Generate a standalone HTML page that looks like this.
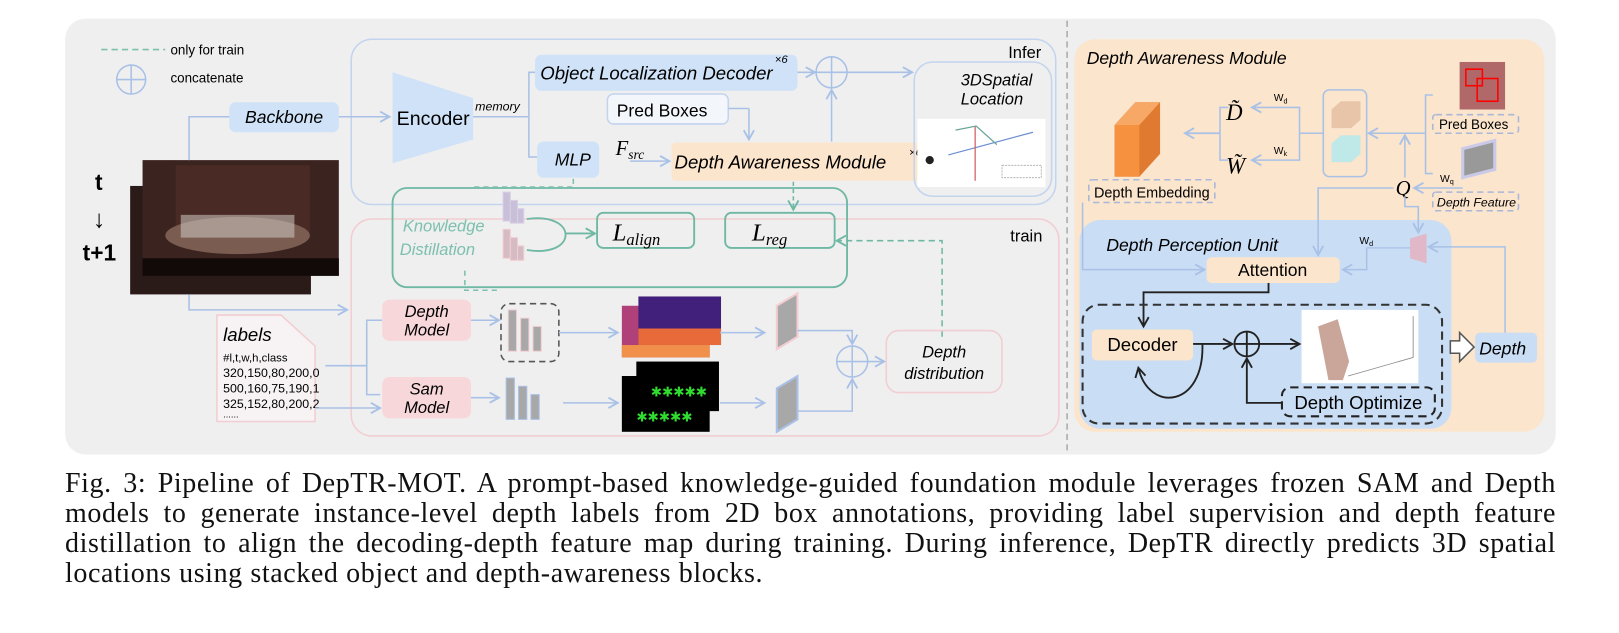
<!DOCTYPE html>
<html><head><meta charset="utf-8"><style>
body{margin:0;background:#fff;width:1619px;height:633px;overflow:hidden;position:relative}
svg{position:absolute;left:0;top:0}
.cap{position:absolute;left:65px;top:469px;width:1491px;font-family:"Liberation Serif",serif;font-size:28px;letter-spacing:0.6px;line-height:30px;text-align:justify;color:#111}
text{font-family:"Liberation Sans",sans-serif}
.it{font-style:italic}
</style></head><body>
<svg width="1619" height="465" viewBox="0 0 1619 465">
<defs>
<marker id="a" markerWidth="12" markerHeight="12" refX="10" refY="6" orient="auto" markerUnits="userSpaceOnUse"><path d="M1,1 L10,6 L1,11" fill="none" stroke="#a9c1e6" stroke-width="1.8"/></marker>
<marker id="g" markerWidth="12" markerHeight="12" refX="10" refY="6" orient="auto" markerUnits="userSpaceOnUse"><path d="M1,1 L10,6 L1,11" fill="none" stroke="#6fb8a3" stroke-width="1.8"/></marker>
<marker id="k" markerWidth="12" markerHeight="12" refX="10" refY="6" orient="auto" markerUnits="userSpaceOnUse"><path d="M1,1 L10,6 L1,11" fill="none" stroke="#222" stroke-width="1.8"/></marker>
</defs>
<g transform="scale(1.033)">
<rect x="63" y="18" width="1443" height="422" rx="20" fill="#efefef"/>
<line x1="1033" y1="20" x2="1033" y2="440" stroke="#aaa" stroke-width="1.5" stroke-dasharray="6,4"/>
<line x1="98" y1="48" x2="160" y2="48" stroke="#7cc0ad" stroke-width="1.5" stroke-dasharray="6,4"/>
<text x="165" y="53" font-size="13">only for train</text>
<circle cx="127" cy="77" r="14" fill="none" stroke="#a9c1e6" stroke-width="1.5"/>
<line x1="113" y1="77" x2="141" y2="77" stroke="#a9c1e6" stroke-width="1.5"/><line x1="127" y1="63" x2="127" y2="91" stroke="#a9c1e6" stroke-width="1.5"/>
<text x="165" y="80" font-size="13">concatenate</text>
<rect x="340" y="38" width="682" height="160" rx="20" fill="none" stroke="#c3d4ef" stroke-width="1.5"/>
<text x="976" y="56" font-size="16">Infer</text>
<rect x="340" y="212" width="685" height="210" rx="20" fill="none" stroke="#f2cdd2" stroke-width="1.5"/>
<text x="978" y="234" font-size="16">train</text>
<text x="92" y="184" font-size="22" font-weight="bold">t</text>
<text x="90" y="220" font-size="24">↓</text>
<text x="80" y="252" font-size="22" font-weight="bold">t+1</text>
<rect x="126" y="180" width="175" height="105" fill="#2a1a18"/>
<rect x="138" y="155" width="190" height="112" fill="#3b2320"/>
<rect x="170" y="160" width="130" height="70" fill="#4a2a24"/>
<ellipse cx="230" cy="228" rx="70" ry="18" fill="#7a5d50"/>
<rect x="175" y="208" width="110" height="22" fill="#cfc8c4" opacity=".55"/>
<rect x="138" y="250" width="190" height="17" fill="#120909"/>
<polyline points="183,155 183,113 222,113" fill="none" stroke="#a9c1e6" stroke-width="1.5"/>
<rect x="222" y="99" width="106" height="29" rx="6" fill="#cfe2f7"/>
<text x="275" y="119" font-size="17" class="it" text-anchor="middle">Backbone</text>
<line x1="328" y1="113" x2="377" y2="113" stroke="#a9c1e6" stroke-width="1.5" marker-end="url(#a)"/>
<polygon points="380,70 458,95 458,135 380,158" fill="#cfe2f7"/>
<text x="384" y="121" font-size="19">Encoder</text>
<text x="460" y="107" font-size="12" class="it">memory</text>
<polyline points="458,113 512,113" fill="none" stroke="#a9c1e6" stroke-width="1.5"/>
<polyline points="518,70 512,70 512,152 520,152" fill="none" stroke="#a9c1e6" stroke-width="1.5"/>
<rect x="518" y="53" width="254" height="35" rx="6" fill="#cfe2f7"/>
<text x="523" y="77" font-size="18" class="it">Object Localization Decoder</text>
<text x="750" y="61" font-size="11" class="it">×6</text>
<line x1="772" y1="70" x2="789" y2="70" stroke="#a9c1e6" stroke-width="1.5" marker-end="url(#a)"/>
<circle cx="805" cy="70" r="15" fill="none" stroke="#a9c1e6" stroke-width="1.5"/>
<line x1="790" y1="70" x2="820" y2="70" stroke="#a9c1e6" stroke-width="1.5"/><line x1="805" y1="55" x2="805" y2="85" stroke="#a9c1e6" stroke-width="1.5"/>
<line x1="820" y1="70" x2="883" y2="70" stroke="#a9c1e6" stroke-width="1.5" marker-end="url(#a)"/>
<line x1="805" y1="137" x2="805" y2="87" stroke="#a9c1e6" stroke-width="1.5" marker-end="url(#a)"/>
<rect x="588" y="91" width="117" height="29" rx="6" fill="#f3f6fb" stroke="#c3d4ef" stroke-width="1.5"/>
<text x="597" y="113" font-size="17">Pred Boxes</text>
<line x1="725" y1="105" x2="725" y2="135" stroke="#a9c1e6" stroke-width="1.5" marker-end="url(#a)"/>
<line x1="705" y1="105" x2="725" y2="105" stroke="#a9c1e6" stroke-width="1.5"/>
<rect x="520" y="137" width="60" height="35" rx="6" fill="#cfe2f7"/>
<text x="537" y="160" font-size="17" class="it">MLP</text>
<text x="596" y="150" font-size="20" style="font-family:'Liberation Serif',serif" font-style="italic">F<tspan font-size="13" dy="4">src</tspan></text>
<line x1="610" y1="156" x2="648" y2="156" stroke="#a9c1e6" stroke-width="1.5" marker-end="url(#a)"/>
<rect x="650" y="138" width="255" height="37" rx="4" fill="#fbe5cc"/>
<text x="653" y="163" font-size="18" class="it">Depth Awareness Module</text>
<text x="880" y="151" font-size="11" class="it">×6</text>
<rect x="885" y="60" width="133" height="130" rx="18" fill="none" stroke="#c3d4ef" stroke-width="1.5"/>
<text x="930" y="83" font-size="16" class="it">3DSpatial</text>
<text x="930" y="101" font-size="16" class="it">Location</text>
<rect x="888" y="115" width="124" height="66" fill="#fff"/>
<line x1="918" y1="150" x2="1000" y2="128" stroke="#6d8fd0" stroke-width="1.2"/>
<line x1="944" y1="122" x2="944" y2="175" stroke="#d06060" stroke-width="1.2"/>
<polyline points="925,126 945,122 965,140" fill="none" stroke="#6aa59a" stroke-width="1.2"/>
<rect x="970" y="160" width="38" height="12" fill="none" stroke="#aaa" stroke-width=".8" stroke-dasharray="2,1"/>
<circle cx="900" cy="155" r="4" fill="#222"/>
<rect x="380" y="182" width="440" height="96" rx="14" fill="none" stroke="#6fb8a3" stroke-width="1.8"/>
<text x="390" y="224" font-size="16" class="it" fill="#7cc0ad">Knowledge</text>
<text x="387" y="247" font-size="16" class="it" fill="#7cc0ad">Distillation</text>
<g fill="#c8c0d8" stroke="#d9cfe6"><rect x="487" y="186" width="7" height="28"/><rect x="494" y="194" width="7" height="22"/><rect x="501" y="202" width="6" height="14"/></g>
<g fill="#d5bcc4" stroke="#f2cdd2"><rect x="487" y="222" width="7" height="28"/><rect x="494" y="230" width="7" height="22"/><rect x="501" y="238" width="6" height="14"/></g>
<path d="M510,212 C560,205 560,250 510,242" fill="none" stroke="#6fb8a3" stroke-width="1.8"/>
<line x1="548" y1="226" x2="576" y2="226" stroke="#6fb8a3" stroke-width="1.8" marker-end="url(#g)"/>
<rect x="578" y="206" width="94" height="34" rx="6" fill="none" stroke="#6fb8a3" stroke-width="1.8"/>
<text x="593" y="233" font-size="24" style="font-family:'Liberation Serif',serif" font-style="italic">L<tspan font-size="16" dy="4">align</tspan></text>
<rect x="702" y="206" width="106" height="34" rx="6" fill="none" stroke="#6fb8a3" stroke-width="1.8"/>
<text x="728" y="233" font-size="24" style="font-family:'Liberation Serif',serif" font-style="italic">L<tspan font-size="16" dy="4">reg</tspan></text>
<line x1="768" y1="176" x2="768" y2="203" stroke="#6fb8a3" stroke-width="1.5" stroke-dasharray="4,3" marker-end="url(#g)"/>
<polyline points="912,326 912,233 810,233" fill="none" stroke="#6fb8a3" stroke-width="1.5" stroke-dasharray="6,4" marker-end="url(#g)"/>
<polyline points="555,173 555,181 455,181" fill="none" stroke="#7cc0ad" stroke-width="1.5" stroke-dasharray="5,4"/>
<polyline points="450,262 450,281 485,281" fill="none" stroke="#7cc0ad" stroke-width="1.5" stroke-dasharray="5,4"/>
<polyline points="183,285 183,300 336,300" fill="none" stroke="#a9c1e6" stroke-width="1.5" marker-end="url(#a)"/>
<path d="M210,305 L272,305 L305,335 L305,408 L210,408 Z" fill="#f7f3f4" stroke="#f2cdd2" stroke-width="1.5"/>
<text x="216" y="330" font-size="18" class="it">labels</text>
<text x="216" y="350" font-size="11">#l,t,w,h,class</text>
<text x="216" y="365" font-size="12">320,150,80,200,0</text>
<text x="216" y="380" font-size="12">500,160,75,190,1</text>
<text x="216" y="395" font-size="12">325,152,80,200,2</text>
<text x="216" y="404" font-size="9">......</text>
<polyline points="370,310 355,310 355,382 368,382" fill="none" stroke="#a9c1e6" stroke-width="1.5"/>
<line x1="305" y1="395" x2="368" y2="395" stroke="#a9c1e6" stroke-width="1.5" marker-end="url(#a)"/>
<line x1="315" y1="354" x2="355" y2="354" stroke="#a9c1e6" stroke-width="1.5"/>
<rect x="370" y="290" width="86" height="40" rx="7" fill="#f8d7da"/>
<text x="413" y="307" font-size="16" class="it" text-anchor="middle">Depth</text>
<text x="413" y="325" font-size="16" class="it" text-anchor="middle">Model</text>
<rect x="370" y="365" width="86" height="40" rx="7" fill="#f8d7da"/>
<text x="413" y="382" font-size="16" class="it" text-anchor="middle">Sam</text>
<text x="413" y="400" font-size="16" class="it" text-anchor="middle">Model</text>
<line x1="456" y1="310" x2="483" y2="310" stroke="#a9c1e6" stroke-width="1.5" marker-end="url(#a)"/>
<rect x="485" y="294" width="56" height="56" rx="8" fill="none" stroke="#555" stroke-width="1.5" stroke-dasharray="6,4"/>
<g fill="#a8a8a8" stroke="#f2cdd2"><rect x="492" y="300" width="8" height="40"/><rect x="504" y="308" width="8" height="32"/><rect x="516" y="316" width="8" height="24"/></g>
<line x1="541" y1="322" x2="598" y2="322" stroke="#a9c1e6" stroke-width="1.5" marker-end="url(#a)"/>
<line x1="456" y1="385" x2="483" y2="385" stroke="#a9c1e6" stroke-width="1.5" marker-end="url(#a)"/>
<g fill="#a8a8a8" stroke="#a9c1e6"><rect x="490" y="366" width="8" height="40"/><rect x="502" y="374" width="8" height="32"/><rect x="514" y="382" width="8" height="24"/></g>
<line x1="545" y1="390" x2="598" y2="390" stroke="#a9c1e6" stroke-width="1.5" marker-end="url(#a)"/>
<rect x="602" y="296" width="85" height="50" fill="#b0407a"/>
<rect x="618" y="287" width="80" height="47" fill="#40207a"/>
<rect x="618" y="318" width="80" height="16" fill="#e86a3a"/>
<rect x="602" y="334" width="85" height="12" fill="#f0904a"/>
<rect x="602" y="364" width="85" height="54" fill="#000"/>
<rect x="616" y="350" width="80" height="48" fill="#000"/>
<text x="630" y="384" font-size="13" fill="#2fdc2f">✱✱✱✱✱</text>
<text x="616" y="408" font-size="13" fill="#2fdc2f">✱✱✱✱✱</text>
<line x1="697" y1="322" x2="740" y2="322" stroke="#a9c1e6" stroke-width="1.5" marker-end="url(#a)"/>
<line x1="697" y1="390" x2="740" y2="390" stroke="#a9c1e6" stroke-width="1.5" marker-end="url(#a)"/>
<polygon points="752,296 772,284 772,326 752,338" fill="#a8a8a8" stroke="#f2cdd2" stroke-width="2"/>
<polygon points="752,376 772,364 772,406 752,418" fill="#a8a8a8" stroke="#a9c1e6" stroke-width="2"/>
<polyline points="772,320 825,320 825,333" fill="none" stroke="#a9c1e6" stroke-width="1.5" marker-end="url(#a)"/>
<polyline points="772,398 825,398 825,367" fill="none" stroke="#a9c1e6" stroke-width="1.5" marker-end="url(#a)"/>
<circle cx="825" cy="350" r="15" fill="none" stroke="#a9c1e6" stroke-width="1.5"/>
<line x1="810" y1="350" x2="840" y2="350" stroke="#a9c1e6" stroke-width="1.5"/><line x1="825" y1="335" x2="825" y2="365" stroke="#a9c1e6" stroke-width="1.5"/>
<line x1="840" y1="350" x2="856" y2="350" stroke="#a9c1e6" stroke-width="1.5" marker-end="url(#a)"/>
<rect x="858" y="320" width="112" height="60" rx="12" fill="none" stroke="#f2cdd2" stroke-width="1.5"/>
<text x="914" y="346" font-size="16" class="it" text-anchor="middle">Depth</text>
<text x="914" y="367" font-size="16" class="it" text-anchor="middle">distribution</text>
<rect x="1040" y="38" width="455" height="380" rx="20" fill="#fbe5cc"/>
<text x="1052" y="62" font-size="17" class="it">Depth Awareness Module</text>
<rect x="1045" y="213" width="360" height="202" rx="20" fill="#c9ddf5"/>
<text x="1071" y="243" font-size="17" class="it">Depth Perception Unit</text>
<polygon points="1079,121 1099,99 1123,99 1123,149 1103,171 1079,171" fill="#e07a30"/>
<rect x="1079" y="121" width="24" height="50" fill="#f5913f"/>
<polygon points="1079,121 1099,99 1123,99 1103,121" fill="#f7a866"/>
<rect x="1054" y="174" width="122" height="22" rx="3" fill="none" stroke="#a9b7d9" stroke-width="1.5" stroke-dasharray="6,4"/>
<text x="1059" y="191" font-size="14">Depth Embedding</text>
<polyline points="1048,196 1048,261 1166,261" fill="none" stroke="#a9c1e6" stroke-width="1.5" marker-end="url(#a)"/>
<line x1="1181" y1="129" x2="1147" y2="129" stroke="#a9c1e6" stroke-width="1.8" marker-end="url(#a)"/>
<polyline points="1189,104 1181,104 1181,155 1189,155" fill="none" stroke="#a9c1e6" stroke-width="1.5"/>
<text x="1187" y="116" font-size="22" style="font-family:'Liberation Serif',serif" font-style="italic">D̃</text>
<text x="1187" y="168" font-size="22" style="font-family:'Liberation Serif',serif" font-style="italic">W̃</text>
<polyline points="1258,129 1258,104 1212,104" fill="none" stroke="#a9c1e6" stroke-width="1.5" marker-end="url(#a)"/>
<polyline points="1258,129 1258,155 1212,155" fill="none" stroke="#a9c1e6" stroke-width="1.5" marker-end="url(#a)"/>
<line x1="1258" y1="129" x2="1281" y2="129" stroke="#a9c1e6" stroke-width="1.5"/>
<text x="1233" y="98" font-size="10">W<tspan font-size="7" dy="2">d</tspan></text>
<text x="1233" y="149" font-size="10">W<tspan font-size="7" dy="2">k</tspan></text>
<rect x="1281" y="87" width="42" height="84" rx="6" fill="none" stroke="#a9c1e6" stroke-width="1.5"/>
<polygon points="1289,106 1298,98 1317,98 1317,116 1308,124 1289,124" fill="#e8c5a8"/>
<polygon points="1289,139 1298,131 1317,131 1317,149 1308,157 1289,157" fill="#bfe8e8"/>
<line x1="1380" y1="129" x2="1325" y2="129" stroke="#a9c1e6" stroke-width="1.5" marker-end="url(#a)"/>
<polyline points="1387,92 1380,92 1380,168 1387,168" fill="none" stroke="#a9c1e6" stroke-width="1.5"/>
<line x1="1360" y1="172" x2="1360" y2="131" stroke="#a9c1e6" stroke-width="1.5" marker-end="url(#a)"/>
<text x="1351" y="189" font-size="20" style="font-family:'Liberation Serif',serif" font-style="italic">Q</text>
<line x1="1416" y1="182" x2="1369" y2="182" stroke="#a9c1e6" stroke-width="1.5" marker-end="url(#a)"/>
<text x="1394" y="176" font-size="10">W<tspan font-size="7" dy="2">q</tspan></text>
<polyline points="1349,182 1276,182 1276,247" fill="none" stroke="#a9c1e6" stroke-width="1.5" marker-end="url(#a)"/>
<polyline points="1360,190 1360,200 1373,200 1373,225" fill="none" stroke="#a9c1e6" stroke-width="1.5" marker-end="url(#a)"/>
<rect x="1413" y="60" width="44" height="46" fill="#b06868"/>
<rect x="1419" y="67" width="16" height="16" fill="none" stroke="#f00" stroke-width="1.5"/>
<rect x="1430" y="76" width="20" height="22" fill="none" stroke="#f00" stroke-width="1.5"/>
<rect x="1387" y="111" width="83" height="18" rx="3" fill="none" stroke="#a9b7d9" stroke-width="1.5" stroke-dasharray="6,4"/>
<text x="1393" y="125" font-size="13">Pred Boxes</text>
<polygon points="1416,144 1447,136 1447,164 1416,172" fill="#999" stroke="#c9c9e8" stroke-width="3"/>
<rect x="1387" y="186" width="83" height="18" rx="3" fill="none" stroke="#a9b7d9" stroke-width="1.5" stroke-dasharray="6,4"/>
<text x="1391" y="200" font-size="12" class="it">Depth Feature</text>
<polygon points="1365,231 1381,226 1381,255 1365,250" fill="#e0b8c8"/>
<polyline points="1457,322 1457,239 1383,239" fill="none" stroke="#a9c1e6" stroke-width="1.5" marker-end="url(#a)"/>
<line x1="1365" y1="240" x2="1323" y2="240" stroke="#a9c1e6" stroke-width="1.2"/>
<polyline points="1323,240 1323,261 1300,261" fill="none" stroke="#a9c1e6" stroke-width="1.5" marker-end="url(#a)"/>
<text x="1316" y="236" font-size="10">W<tspan font-size="7" dy="2">d</tspan></text>
<rect x="1168" y="249" width="129" height="25" rx="5" fill="#fbe5cc"/>
<text x="1232" y="267" font-size="17" text-anchor="middle">Attention</text>
<polyline points="1228,274 1228,283 1107,283 1107,316" fill="none" stroke="#222" stroke-width="1.8" marker-end="url(#k)"/>
<rect x="1048" y="295" width="348" height="115" rx="16" fill="none" stroke="#333" stroke-width="2" stroke-dasharray="8,5"/>
<rect x="1057" y="319" width="98" height="30" rx="5" fill="#fbe5cc"/>
<text x="1106" y="340" font-size="18" text-anchor="middle">Decoder</text>
<line x1="1155" y1="333" x2="1193" y2="333" stroke="#222" stroke-width="1.8" marker-end="url(#k)"/>
<path d="M1164,333 C1166,395 1112,400 1102,356" fill="none" stroke="#222" stroke-width="1.8" marker-end="url(#k)"/>
<circle cx="1207" cy="333" r="12" fill="none" stroke="#222" stroke-width="1.8"/>
<line x1="1195" y1="333" x2="1219" y2="333" stroke="#222" stroke-width="1.8"/><line x1="1207" y1="321" x2="1207" y2="345" stroke="#222" stroke-width="1.8"/>
<line x1="1219" y1="333" x2="1258" y2="333" stroke="#222" stroke-width="1.8" marker-end="url(#k)"/>
<polyline points="1241,390 1207,390 1207,347" fill="none" stroke="#222" stroke-width="1.8" marker-end="url(#k)"/>
<rect x="1260" y="300" width="113" height="71" fill="#fff"/>
<polygon points="1276,316 1295,309 1306,350 1300,368 1286,368" fill="#c9a59a"/>
<polyline points="1305,364 1368,346 1368,306" fill="none" stroke="#888" stroke-width=".8"/>
<rect x="1241" y="375" width="148" height="28" rx="8" fill="none" stroke="#222" stroke-width="2" stroke-dasharray="8,5"/>
<text x="1315" y="396" font-size="18" text-anchor="middle">Depth Optimize</text>
<polygon points="1404,330 1413,330 1413,322 1427,336 1413,350 1413,342 1404,342" fill="#fff" stroke="#555" stroke-width="1.5"/>
<rect x="1428" y="322" width="60" height="29" rx="5" fill="#c9ddf5"/>
<text x="1432" y="343" font-size="17" class="it">Depth</text>
</g>
</svg>
<div class="cap">Fig. 3: Pipeline of DepTR-MOT. A prompt-based knowledge-guided foundation module leverages frozen SAM and Depth models to generate instance-level depth labels from 2D box annotations, providing label supervision and depth feature distillation to align the decoding-depth feature map during training. During inference, DepTR directly predicts 3D spatial locations using stacked object and depth-awareness blocks.</div>
</body></html>
